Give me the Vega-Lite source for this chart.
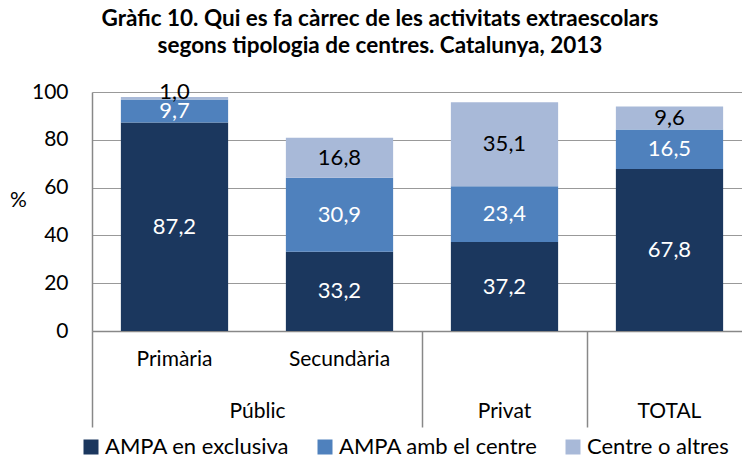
{
  "$schema": "https://vega.github.io/schema/vega-lite/v6.json",
  "width": 660,
  "height": 239,
  "autosize": "none",
  "padding": {"left": 92, "top": 92, "right": 0, "bottom": 129},
  "background": "white",
  "config": {"font": "Lato", "view": {"stroke": null}},
  "title": {
    "text": ["Gràfic 10. Qui es fa càrrec de les activitats extraescolars", "segons tipologia de centres. Catalunya, 2013"],
    "font": "Lato", "fontSize": 22.5, "fontWeight": "bold", "color": "black",
    "anchor": "middle", "dx": -42, "offset": 24, "lineHeight": 27
  },
  "data": {"values": [
    {"c": "Primària", "s": "AMPA en exclusiva", "v": 87.2, "k": 1},
    {"c": "Primària", "s": "AMPA amb el centre", "v": 9.7, "k": 2},
    {"c": "Primària", "s": "Centre o altres", "v": 1.0, "k": 3},
    {"c": "Secundària", "s": "AMPA en exclusiva", "v": 33.2, "k": 1},
    {"c": "Secundària", "s": "AMPA amb el centre", "v": 30.9, "k": 2},
    {"c": "Secundària", "s": "Centre o altres", "v": 16.8, "k": 3},
    {"c": "Privat", "s": "AMPA en exclusiva", "v": 37.2, "k": 1},
    {"c": "Privat", "s": "AMPA amb el centre", "v": 23.4, "k": 2},
    {"c": "Privat", "s": "Centre o altres", "v": 35.1, "k": 3},
    {"c": "TOTAL", "s": "AMPA en exclusiva", "v": 67.8, "k": 1},
    {"c": "TOTAL", "s": "AMPA amb el centre", "v": 16.5, "k": 2},
    {"c": "TOTAL", "s": "Centre o altres", "v": 9.6, "k": 3}
  ]},
  "transform": [
    {"stack": "v", "groupby": ["c"], "sort": [{"field": "k", "order": "ascending"}], "as": ["v0", "v1"]},
    {"calculate": "(datum.v0 + datum.v1) / 2", "as": "mid"},
    {"calculate": "replace(format(datum.v, '.1f'), '.', ',')", "as": "lbl"}
  ],
  "layer": [
    {
      "mark": {"type": "bar"},
      "encoding": {
        "x": {
          "field": "c", "type": "nominal",
          "scale": {"type": "band", "domain": ["Primària", "Secundària", "Privat", "TOTAL"], "paddingInner": 0.35, "paddingOuter": 0.175},
          "axis": {
            "orient": "bottom", "title": null, "labelAngle": 0, "labelFont": "Lato", "labelFontSize": 21,
            "labelColor": "black", "labelPadding": 17, "ticks": false, "domainColor": "#888888", "domainWidth": 1.5,
            "labelExpr": "datum.value == 'Primària' || datum.value == 'Secundària' ? datum.value : ''"
          }
        },
        "y": {
          "field": "v0", "type": "quantitative", "scale": {"domain": [0, 100]},
          "axis": {
            "title": "%", "titleAngle": 0, "titleX": -74, "titleY": 108, "titleAlign": "center", "titleBaseline": "middle",
            "titleFont": "Lato", "titleFontSize": 21, "titleFontWeight": "normal", "titleColor": "black",
            "values": [0, 20, 40, 60, 80, 100], "ticks": false, "labelPadding": 24,
            "labelFont": "Lato", "labelFontSize": 21, "labelColor": "black",
            "domainColor": "#888888", "domainWidth": 1.5, "gridColor": "#999999", "gridWidth": 1.2
          }
        },
        "y2": {"field": "v1"},
        "color": {
          "field": "s", "type": "nominal",
          "scale": {"domain": ["AMPA en exclusiva", "AMPA amb el centre", "Centre o altres"], "range": ["#1B375E", "#4F81BD", "#A8B9D8"]},
          "legend": {
            "orient": "none", "legendX": -12, "legendY": 344, "direction": "horizontal", "title": null, "padding": 0,
            "symbolType": "square", "symbolSize": 225, "symbolStrokeWidth": 0, "symbolOpacity": 1,
            "labelFont": "Lato", "labelFontSize": 22, "labelColor": "black", "labelOffset": 3, "labelLimit": 400, "columnPadding": 24
          }
        }
      }
    },
    {
      "transform": [{"filter": "datum.v > 2"}],
      "mark": {"type": "text", "font": "Lato", "fontSize": 22, "baseline": "middle", "align": "center"},
      "encoding": {
        "x": {
          "field": "c", "type": "nominal",
          "scale": {"type": "band", "domain": ["Primària", "Secundària", "Privat", "TOTAL"], "paddingInner": 0, "paddingOuter": 0},
          "axis": {
            "orient": "bottom", "title": null, "labelAngle": 0, "domain": false,
            "bandPosition": 0, "tickSize": 96, "tickWidth": 1.5,
            "tickColor": {"condition": {"test": "datum.value === 'Secundària'", "value": "transparent"}, "value": "#888888"},
            "labelExpr": "datum.value == 'Primària' ? '' : datum.value == 'Secundària' ? 'Públic' : datum.value",
            "labelOffset": {"condition": {"test": "datum.value === 'Secundària'", "value": -82}, "value": 0},
            "labelPadding": -27, "labelFont": "Lato", "labelFontSize": 21, "labelColor": "black"
          }
        },
        "y": {"field": "mid", "type": "quantitative"},
        "text": {"field": "lbl"},
        "color": {"condition": {"test": "datum.s === 'Centre o altres'", "value": "black"}, "value": "white"}
      }
    },
    {
      "transform": [{"filter": "datum.v <= 2"}],
      "mark": {"type": "text", "font": "Lato", "fontSize": 22, "baseline": "middle", "align": "center", "dy": -5, "color": "black"},
      "encoding": {
        "x": {"field": "c", "type": "nominal", "scale": {"type": "band", "domain": ["Primària", "Secundària", "Privat", "TOTAL"], "paddingInner": 0, "paddingOuter": 0}, "axis": null},
        "y": {"field": "v1", "type": "quantitative"},
        "text": {"field": "lbl"}
      }
    }
  ],
  "resolve": {"scale": {"x": "independent"}, "axis": {"x": "independent"}}
}
